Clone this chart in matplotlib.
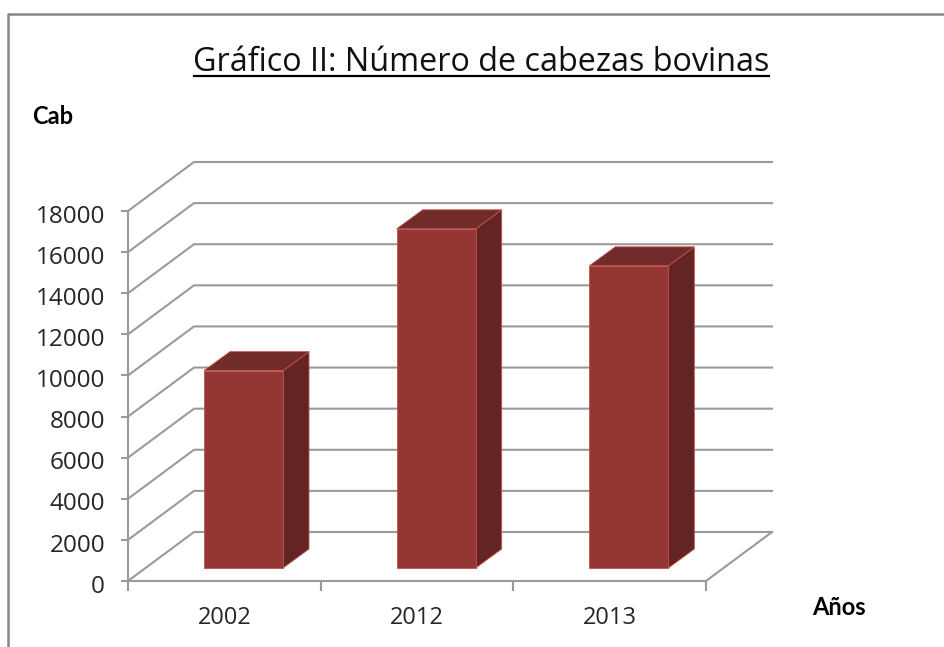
import matplotlib
matplotlib.use('Agg')
import matplotlib.pyplot as plt
from matplotlib.patches import Polygon
from matplotlib.lines import Line2D

years = ['2002', '2012', '2013']
cabezas = [9600, 16500, 14700]
y_ticks = [0, 2000, 4000, 6000, 8000, 10000, 12000, 14000, 16000, 18000]

W, H = 944, 647
GRID = '#9a9a9a'
FRONT = '#943634'
SIDE = '#632523'
TOP = '#712b29'
EDGE = '#c0504d'

plt.rcParams['font.family'] = ['Open Sans', 'DejaVu Sans']

fig = plt.figure(figsize=(W / 100, H / 100), dpi=100)
# eje frontal: x 128-706 px, y 581-211 px
ax = fig.add_axes([128 / W, 1 - 581 / H, (706 - 128) / W, (581 - 211) / H])
ax.set_xlim(0, 3)
ax.set_ylim(0, 18000)
ax.axis('off')

# profundidad de la pared del fondo, en unidades de datos
DX = 66 / ((706 - 128) / 3)
DY = 49 / ((581 - 211) / 18000)

for v in y_ticks:
    ax.plot([0, DX, 3 + DX], [v, v + DY, v + DY], color=GRID, lw=1.5, clip_on=False,
            solid_joinstyle='miter', zorder=1)
    ax.plot([-0.03, 0], [v, v], color=GRID, lw=1.5, clip_on=False, zorder=1)
    ax.text(-0.12, v - 130, str(v), ha='right', va='center_baseline', fontsize=17.5, color='#262626')
ax.plot([0, 0], [0, 18000], color=GRID, lw=1.5, clip_on=False, zorder=1)
ax.plot([0, 3, 3 + DX], [0, 0, DY], color=GRID, lw=1.5, clip_on=False, zorder=1)
for i in range(4):
    ax.plot([i, i], [0, -450], color=GRID, lw=1.5, clip_on=False, zorder=1)

# barras 3D
bar_w = 79 / ((706 - 128) / 3)
x_off = 76 / ((706 - 128) / 3)
base = 13 / ((581 - 211) / 18000)
bx = 26 / ((706 - 128) / 3)
by = 19 / ((581 - 211) / 18000)
for i, (year, val) in enumerate(zip(years, cabezas)):
    x0 = i + x_off
    x1 = x0 + bar_w
    y0 = base
    y1 = base + val
    ax.add_patch(Polygon([(x1, y0), (x1 + bx, y0 + by), (x1 + bx, y1 + by), (x1, y1)],
                         fc=SIDE, ec=EDGE, lw=0.6, clip_on=False, zorder=3))
    ax.add_patch(Polygon([(x0, y1), (x1, y1), (x1 + bx, y1 + by), (x0 + bx, y1 + by)],
                         fc=TOP, ec=EDGE, lw=0.6, clip_on=False, zorder=3))
    ax.add_patch(Polygon([(x0, y0), (x1, y0), (x1, y1), (x0, y1)],
                         fc=FRONT, ec=EDGE, lw=0.6, clip_on=False, zorder=4))
    ax.text(i + 0.5, -2100, year, ha='center', va='baseline', fontsize=17, color='#262626')

# marco del grafico
fig.add_artist(Line2D([8 / W, 8 / W, 1], [0, 1 - 14 / H, 1 - 14 / H], color='#868686', lw=1.8))

fig.text(481.5 / W, 1 - 71 / H, 'Gráfico II: Número de cabezas bovinas', ha='center', va='baseline',
         fontsize=23.3, color='#111111')
fig.add_artist(Line2D([194 / W, 769 / W], [1 - 76 / H, 1 - 76 / H], color='black', lw=1.6))
fig.text(32 / W, 1 - 124 / H, 'Cab', fontsize=17, fontweight='bold', color='black', family='Lato')
fig.text(812 / W, 1 - 615 / H, 'Años', fontsize=17, fontweight='bold', color='black', family='Lato')

fig.savefig('out.png', dpi=100)
